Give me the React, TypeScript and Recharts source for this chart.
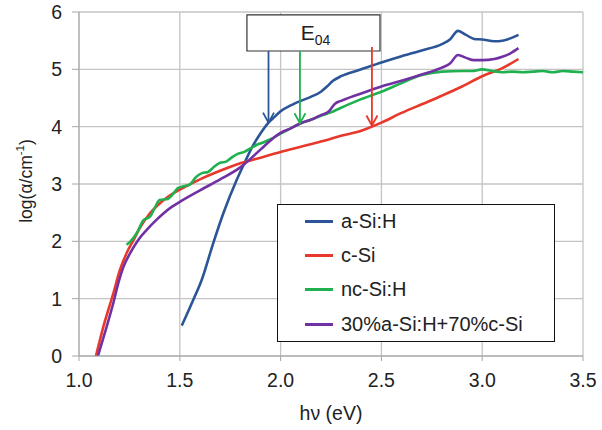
import React from 'react';
import {
  LineChart,
  Line,
  XAxis,
  YAxis,
  CartesianGrid,
  Legend,
  ReferenceArea,
  ReferenceLine,
  ReferenceDot
} from 'recharts';

const FONT = '"Liberation Sans", Arial, sans-serif';

// Absorption spectra: photon energy (eV) vs log(alpha / cm^-1)
const aSiX = [1.51, 1.567, 1.609, 1.666, 1.716, 1.782, 1.82, 1.86, 1.90, 1.94, 1.97, 2.00, 2.05, 2.10, 2.15, 2.20, 2.23, 2.26, 2.30, 2.40, 2.50, 2.60, 2.70, 2.80, 2.84, 2.88, 2.92, 2.96, 3.00, 3.06, 3.10, 3.14, 3.18];
const aSiY = [0.53, 0.98, 1.33, 1.97, 2.49, 3.07, 3.36, 3.65, 3.88, 4.07, 4.17, 4.27, 4.37, 4.45, 4.52, 4.61, 4.7, 4.8, 4.88, 5.0, 5.12, 5.23, 5.33, 5.44, 5.52, 5.67, 5.6, 5.53, 5.52, 5.49, 5.5, 5.54, 5.6];

const cSiX = [1.084, 1.12, 1.17, 1.203, 1.237, 1.27, 1.30, 1.35, 1.40, 1.45, 1.50, 1.60, 1.70, 1.80, 1.90, 2.00, 2.10, 2.20, 2.30, 2.40, 2.50, 2.60, 2.70, 2.80, 2.90, 3.00, 3.10, 3.18];
const cSiY = [0, 0.5, 1.09, 1.5, 1.8, 2.02, 2.22, 2.48, 2.66, 2.8, 2.9, 3.08, 3.23, 3.36, 3.46, 3.56, 3.65, 3.74, 3.84, 3.93, 4.07, 4.24, 4.39, 4.54, 4.7, 4.88, 5.02, 5.18];

const ncSiX = [1.236, 1.253, 1.286, 1.32, 1.352, 1.375, 1.40, 1.44, 1.47, 1.49, 1.52, 1.55, 1.58, 1.61, 1.64, 1.67, 1.70, 1.73, 1.76, 1.79, 1.82, 1.85, 1.88, 1.91, 1.95, 2.00, 2.05, 2.10, 2.15, 2.20, 2.25, 2.30, 2.40, 2.50, 2.60, 2.70, 2.80, 2.90, 2.95, 3.00, 3.05, 3.10, 3.15, 3.20, 3.25, 3.30, 3.35, 3.40, 3.45, 3.50];
const ncSiY = [1.94, 1.99, 2.14, 2.37, 2.43, 2.58, 2.72, 2.74, 2.84, 2.93, 2.96, 2.99, 3.12, 3.19, 3.21, 3.3, 3.37, 3.39, 3.47, 3.53, 3.56, 3.62, 3.68, 3.72, 3.78, 3.88, 3.97, 4.06, 4.12, 4.19, 4.25, 4.33, 4.48, 4.61, 4.76, 4.9, 4.96, 4.97, 4.97, 5.0, 4.97, 4.95, 4.96, 4.95, 4.96, 4.97, 4.95, 4.97, 4.96, 4.95];

const mixX = [1.094, 1.137, 1.17, 1.195, 1.22, 1.253, 1.293, 1.336, 1.38, 1.42, 1.46, 1.50, 1.60, 1.70, 1.80, 1.90, 1.95, 2.00, 2.05, 2.10, 2.15, 2.20, 2.24, 2.27, 2.30, 2.40, 2.50, 2.60, 2.70, 2.80, 2.84, 2.88, 2.92, 2.96, 3.00, 3.06, 3.10, 3.14, 3.18];
const mixY = [0, 0.51, 0.92, 1.27, 1.55, 1.79, 2.02, 2.2, 2.36, 2.49, 2.6, 2.69, 2.89, 3.08, 3.29, 3.6, 3.76, 3.89, 3.97, 4.06, 4.12, 4.2, 4.27, 4.4, 4.45, 4.58, 4.7, 4.8, 4.91, 5.03, 5.1, 5.25, 5.2, 5.16, 5.16, 5.18, 5.22, 5.28, 5.37];

const seriesNames = ['a-Si:H', 'c-Si', 'nc-Si:H', '30%a-Si:H+70%c-Si'];
const seriesColors = ['#2b5597', '#e8382b', '#1fb04f', '#7131a3'];

// E04 markers (arrow tips) for a-Si:H, nc-Si:H and c-Si
const e04X = [1.94, 2.096, 2.453];
const e04Y = [4.07, 4.06, 4.02];
const e04Colors = ['#2b5597', '#1fb04f', '#e8382b'];
const e04StemTop = [5.32, 5.32, 5.39];

const xTicks = [1.0, 1.5, 2.0, 2.5, 3.0, 3.5];
const yTicks = [0, 1, 2, 3, 4, 5, 6];

const zip = (xs: number[], ys: number[]) => xs.map((x, i) => ({ x, y: ys[i] }));
const seriesData = [zip(aSiX, aSiY), zip(cSiX, cSiY), zip(ncSiX, ncSiY), zip(mixX, mixY)];

const YLabel = ({ viewBox }: any) => {
  const cx = viewBox.x + 26;
  const cy = viewBox.y + viewBox.height / 2 - 3;
  return (
    <text
      x={cx}
      y={cy}
      transform={`rotate(-90 ${cx} ${cy})`}
      textAnchor="middle"
      dominantBaseline="central"
      fontFamily={FONT}
      fontSize={17.5}
      fill="#222"
    >
      log(α/cm
      <tspan dy={-6} fontSize={11.5}>-1</tspan>
      <tspan dy={6}>)</tspan>
    </text>
  );
};

const XLabel = ({ viewBox }: any) => (
  <text
    x={viewBox.x + viewBox.width / 2}
    y={viewBox.y + 64}
    textAnchor="middle"
    fontFamily={FONT}
    fontSize={19.5}
    fill="#222"
  >
    hν (eV)
  </text>
);

const E04Label = ({ viewBox }: any) => (
  <text
    x={viewBox.x + viewBox.width / 2 + 2}
    y={viewBox.y + 25}
    textAnchor="middle"
    fontFamily={FONT}
    fontSize={21}
    fill="#222"
  >
    E<tspan fontSize={14} dy={5}>04</tspan>
  </text>
);

const arrowHead = (color: string) => (props: any) => {
  const { cx, cy } = props;
  return (
    <path
      d={`M${cx - 5.5},${cy - 10} L${cx},${cy} L${cx + 5.5},${cy - 10}`}
      fill="none"
      stroke={color}
      strokeWidth={1.8}
    />
  );
};

const LegendBox = ({ payload }: any) => {
  const items = [...(payload || [])].sort(
    (a: any, b: any) => seriesNames.indexOf(a.value) - seriesNames.indexOf(b.value)
  );
  return (
    <div
      style={{
        width: 278,
        height: 138,
        boxSizing: 'border-box',
        border: '1.3px solid #111',
        background: '#fff',
        fontFamily: FONT,
        fontSize: 20,
        color: '#222'
      }}
    >
      <div style={{ marginTop: -1 }}>
        {items.map((entry: any) => (
          <div key={entry.value} style={{ display: 'flex', alignItems: 'center', height: 34.4 }}>
            <span
              style={{ display: 'inline-block', width: 28, height: 3, background: entry.color, marginLeft: 27, marginRight: 8 }}
            />
            <span>{entry.value}</span>
          </div>
        ))}
      </div>
    </div>
  );
};

export default function App() {
  return (
    <div style={{ position: 'absolute', left: 0, top: 0, background: '#fff' }}>
      <LineChart width={602} height={430} margin={{ top: 12, right: 19, left: 0, bottom: 0 }}>
        <CartesianGrid stroke="#c4c4c4" strokeWidth={1.3} />
        <XAxis
          type="number"
          dataKey="x"
          domain={[1, 3.5]}
          ticks={xTicks}
          allowDataOverflow
          tickFormatter={(v: number) => v.toFixed(1)}
          height={74}
          tickSize={5}
          tickMargin={12}
          stroke="#a6a6a6"
          tick={{ fill: '#222', fontSize: 19.5, fontFamily: FONT }}
          label={<XLabel />}
        />
        <YAxis
          type="number"
          dataKey="y"
          domain={[0, 6]}
          ticks={yTicks}
          allowDataOverflow
          width={79}
          tickSize={7}
          tickMargin={10}
          stroke="#a6a6a6"
          tick={{ fill: '#222', fontSize: 19.5, fontFamily: FONT }}
          label={<YLabel />}
        />
        <ReferenceArea
          x1={1.833}
          x2={2.493}
          y1={5.32}
          y2={5.95}
          fill="#fff"
          fillOpacity={1}
          stroke="#333"
          strokeWidth={1.2}
          label={<E04Label />}
        />
        {seriesData.map((d, i) => (
          <Line
            key={seriesNames[i]}
            data={d}
            dataKey="y"
            name={seriesNames[i]}
            type="monotone"
            stroke={seriesColors[i]}
            strokeWidth={2.6}
            dot={false}
            activeDot={false}
            isAnimationActive={false}
          />
        ))}
        {e04X.map((x, i) => (
          <ReferenceLine
            key={`stem-${i}`}
            segment={[{ x, y: e04StemTop[i] }, { x, y: e04Y[i] }]}
            stroke={e04Colors[i]}
            strokeWidth={1.8}
          />
        ))}
        {e04X.map((x, i) => (
          <ReferenceDot key={`head-${i}`} x={x} y={e04Y[i]} r={0} shape={arrowHead(e04Colors[i])} />
        ))}
        <Legend
          layout="vertical"
          align="center"
          verticalAlign="middle"
          content={<LegendBox />}
          wrapperStyle={{ position: 'absolute', left: 277, top: 204, width: 278, height: 138 }}
        />
      </LineChart>
    </div>
  );
}
